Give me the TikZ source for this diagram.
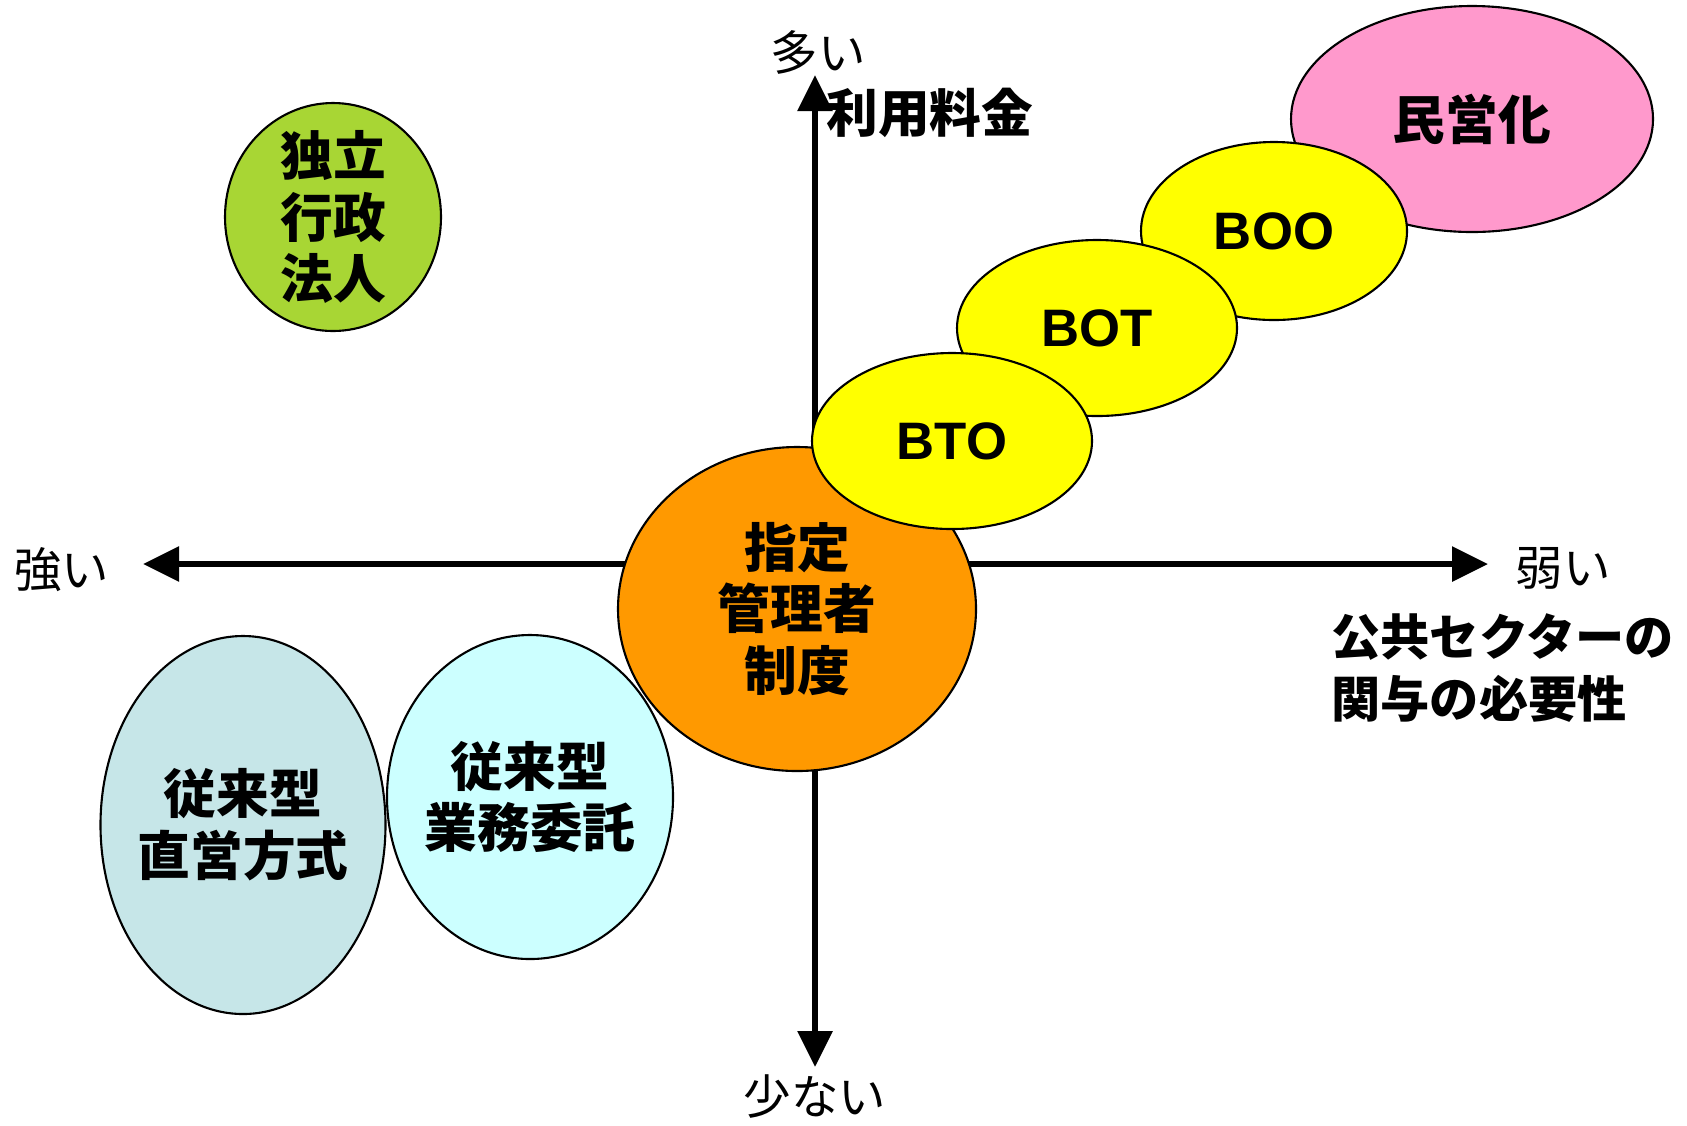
\documentclass[tikz,border=0pt]{standalone}
\usepackage{fontspec}
\setmainfont{Noto Sans CJK JP}
\newfontfamily\latinfont{Liberation Sans}
\usetikzlibrary{shapes.geometric,arrows.meta}
\definecolor{dokuritsugreen}{RGB}{168,214,52}
\definecolor{chokueiteal}{RGB}{198,230,232}
\definecolor{gyomucyan}{RGB}{204,255,255}
\definecolor{shiteiorange}{RGB}{255,153,0}
\definecolor{ppyellow}{RGB}{255,255,0}
\definecolor{mineipink}{RGB}{255,153,204}
\begin{document}
\begin{tikzpicture}[
  bubble/.style={ellipse, draw, line width=0.6pt, inner sep=-6pt, align=center,
    font=\fontsize{15}{17.6}\selectfont\bfseries},
  ppbubble/.style={bubble, fill=ppyellow, minimum width=2.8cm, minimum height=1.76cm,
    font=\latinfont\fontsize{15}{18}\selectfont\bfseries},
  axis/.style={line width=1.7pt, {Triangle[length=0.36cm,width=0.34cm]}-{Triangle[length=0.36cm,width=0.34cm]}},
  axistext/.style={font=\fontsize{13.5}{16}\selectfont},
  axistitle/.style={align=left, font=\fontsize{14}{17.6}\selectfont\bfseries}
]
\useasboundingbox (0,0) rectangle (16.87,-11.25);
% axes
\coordinate (top) at (8.15,-0.75);
\coordinate (bottom) at (8.15,-10.67);
\coordinate (left) at (1.43,-5.64);
\coordinate (right) at (14.88,-5.64);
\draw[axis] (bottom) -- (top);
\draw[axis] (left) -- (right);
% bubbles
\draw (3.33,-2.17) node[bubble, fill=dokuritsugreen, minimum width=2.16cm, minimum height=2.28cm] (dokuritsu) {独立\\行政\\法人};
\draw (2.43,-8.25) node[bubble, fill=chokueiteal, minimum width=2.85cm, minimum height=3.78cm] (chokuei) {従来型\\直営方式};
\draw (5.30,-7.97) node[bubble, fill=gyomucyan, minimum width=2.86cm, minimum height=3.24cm] (gyomu) {従来型\\業務委託};
\draw (7.97,-6.09) node[bubble, fill=shiteiorange, minimum width=3.58cm, minimum height=3.24cm] (shitei) {指定\\管理者\\制度};
\draw (14.72,-1.19) node[bubble, fill=mineipink, minimum width=3.62cm, minimum height=2.26cm] (minei) {民営化};
\draw (12.74,-2.31) node[ppbubble, minimum width=2.66cm, minimum height=1.78cm] (boo) {BOO};
\draw (10.97,-3.28) node[ppbubble] (bot) {BOT};
\draw (9.52,-4.41) node[ppbubble] (bto) {BTO};
% axis labels
\draw (8.18,-0.52) node[axistext] (many) {多い};
\draw (8.14,-1.13) node[anchor=west, font=\fontsize{14.7}{17}\selectfont\bfseries] (fee) {利用料金};
\draw (8.15,-10.97) node[axistext] (few) {少ない};
\draw (0.62,-5.70) node[axistext] (strong) {強い};
\draw (15.63,-5.68) node[axistext] (weak) {弱い};
\draw (13.19,-6.68) node[axistitle, anchor=west] (public) {公共セクターの\\関与の必要性};
\end{tikzpicture}
\end{document}
